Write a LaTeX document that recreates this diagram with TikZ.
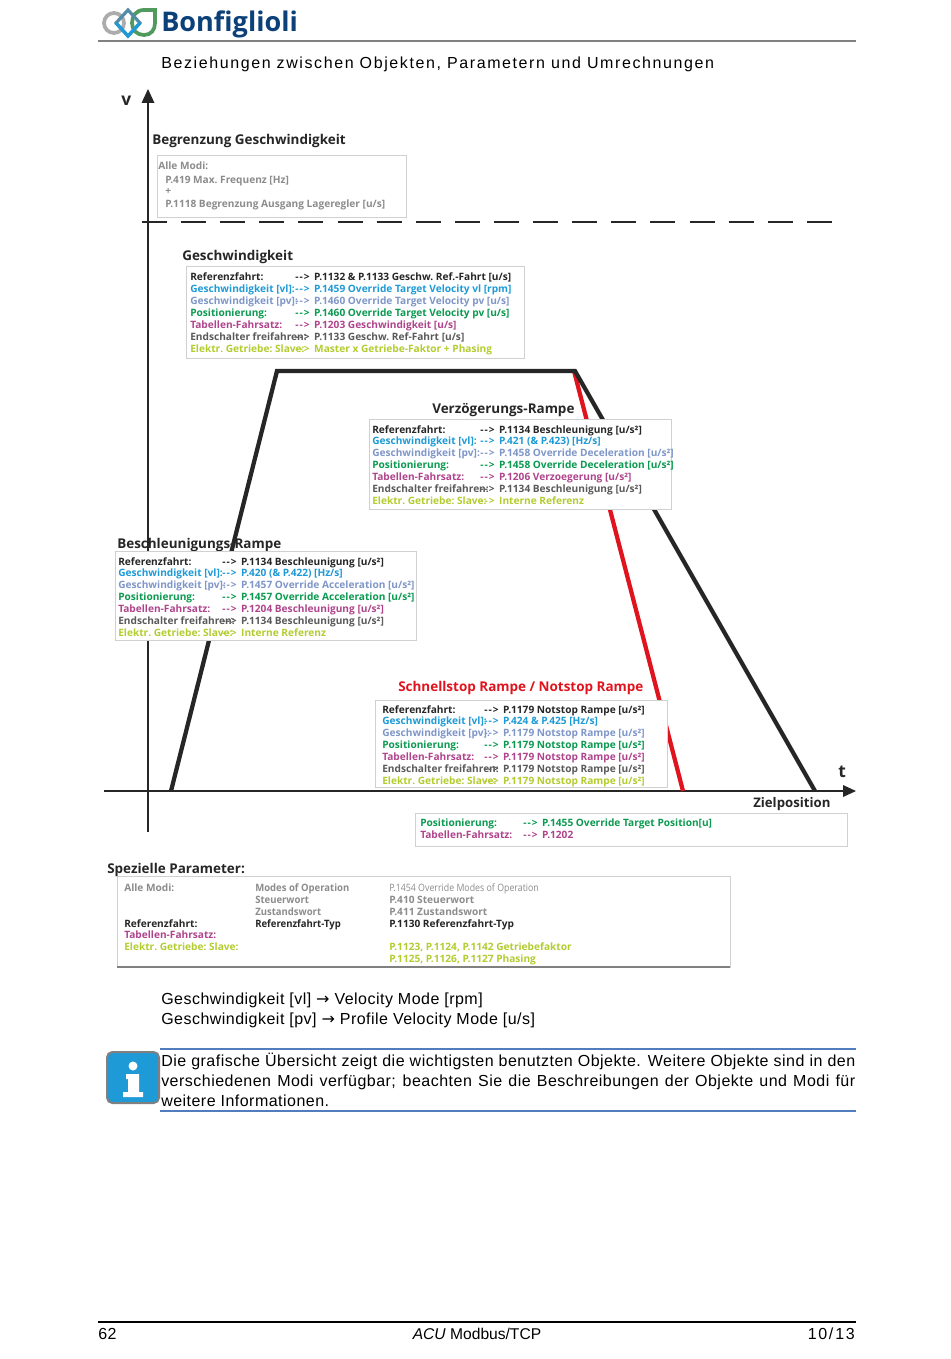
\documentclass[tikz,border=0pt]{standalone}
\usepackage{fontspec}
\setmainfont{Liberation Sans}
\newfontfamily\parfont{Open Sans}
\newfontfamily\narrowfont[FakeStretch=0.94]{Open Sans}
\newfontfamily\thinfont[FakeStretch=0.87]{Open Sans}
\newfontfamily\logofont{Open Sans}
\newfontfamily\bodyfont[LetterSpace=3]{Liberation Sans}
\newfontfamily\titlefont[LetterSpace=10]{Liberation Sans}
\newfontfamily\symfont{DejaVu Sans}
\definecolor{refcol}{HTML}{262626}
\definecolor{vlcol}{HTML}{1E9AD6}
\definecolor{pvcol}{HTML}{7F96C8}
\definecolor{poscol}{HTML}{0B9A50}
\definecolor{tabcol}{HTML}{B0448C}
\definecolor{endcol}{HTML}{5A5A5A}
\definecolor{slavecol}{HTML}{B4CC30}
\definecolor{allcol}{HTML}{8C8C8C}
\definecolor{rampred}{HTML}{E0141E}
\definecolor{boxcol}{HTML}{D0D0D0}
\definecolor{infoblue}{HTML}{4F7DBE}
\definecolor{logoblue}{HTML}{0B4078}
\definecolor{logogreen}{HTML}{4F9A5C}
\newcommand{\parr}{-\kern0.8pt-\kern0.8pt>\ \kern1.4pt}
\tikzset{
    parrow/.style={anchor=base west, inner sep=0pt, font=\frenchspacing\parfont\bfseries\fontsize{7.6}{9}\selectfont},
    narrowrow/.style={parrow, font=\frenchspacing\narrowfont\bfseries\fontsize{7.6}{9}\selectfont},
    heading/.style={anchor=base west, inner sep=0pt, font=\frenchspacing\parfont\bfseries\fontsize{10.1}{12}\selectfont, text=black!85},
    parbox/.style={draw=boxcol, fill=white, line width=0.6pt},
    bodyrow/.style={anchor=base west, inner sep=0pt, font=\bodyfont\fontsize{12}{15}\selectfont},
    axisline/.style={line width=1.9pt, black!85},
    ramp/.style={line width=3.2pt, black!85, line join=miter},
}
\begin{document}
\begin{tikzpicture}[x=0.75pt, y=-0.75pt]
    \useasboundingbox (0,0) rectangle (950,1359);

    % Page head
    \draw[gray, line width=0.8pt] (98,41) -- (856,41);
    \draw[gray!65, line width=2.8pt] (114,23) circle (10);
    \draw[logogreen, line width=2.8pt] (155,10) -- (144,10) .. controls (136,10) and (132,16) .. (132,23) .. controls (132,30) and (137,35) .. (144,35) .. controls (151,35) and (155,30) .. (155,23) -- cycle;
    \draw[gray!55!vlcol, line width=2.4pt] (128,10) -- (140,23) -- (128,36) -- (116,23) -- cycle;
    \draw[vlcol, line width=2.4pt] (140,23) -- (128,36) -- (116,23);
    \node[anchor=base west, inner sep=0pt, text=logoblue, font=\logofont\bfseries\fontsize{20.3}{24}\selectfont] (brand) at (161,32) {Bonfiglioli};
    \node[bodyrow, font=\titlefont\fontsize{12}{15}\selectfont] (pagetitle) at (161,69) {Beziehungen zwischen Objekten, Parametern und Umrechnungen};

    % Axes
    \draw[axisline] (148,832) -- (148,100);
    \fill[black!85] (148,89) -- (154.5,103) -- (141.5,103) -- cycle;
    \draw[axisline] (104,791) -- (845,791);
    \fill[black!85] (856,791) -- (843,785) -- (843,797) -- cycle;
    \node[heading, font=\parfont\bfseries\fontsize{13}{15}\selectfont] (vlabel) at (121,106) {v};
    \node[heading, font=\parfont\bfseries\fontsize{13}{15}\selectfont] (tlabel) at (838,777) {t};

    % Ramps
    \draw[ramp, rampred] (574,371) -- (683,791);
    \draw[ramp] (171,791) -- (277,371) -- (575,371) -- (815,791);

    % Speed limit
    \draw[black!85, line width=1.9pt, dash pattern=on 18.75pt off 10.58pt] (142,222) -- (833,222);
    \node[heading] (limithead) at (152,144.5) {Begrenzung Geschwindigkeit};
    \draw[parbox] (157,155) rectangle (406,217);
    \node[parrow, allcol] (limit-a) at (158,170) {Alle Modi:};
    \node[parrow, allcol] (limit-b) at (165,183) {P.419 Max. Frequenz [Hz]};
    \node[parrow, allcol] (limit-c) at (165,195) {+};
    \node[parrow, allcol] (limit-d) at (165,207) {P.1118 Begrenzung Ausgang Lageregler [u/s]};

    % Speed
    \node[heading] (speedhead) at (182,260) {Geschwindigkeit};
    \draw[parbox] (186,266) rectangle (524,358);
    \foreach \i/\col/\lab/\val in {
        0/refcol/Referenzfahrt:/{\parr P.1132 \& P.1133 Geschw. Ref.-Fahrt [u/s]},
        1/vlcol/{Geschwindigkeit [vl]:}/{\parr P.1459 Override Target Velocity vl [rpm]},
        2/pvcol/{Geschwindigkeit [pv]:}/{\parr P.1460 Override Target Velocity pv [u/s]},
        3/poscol/Positionierung:/{\parr P.1460 Override Target Velocity pv [u/s]},
        4/tabcol/Tabellen-Fahrsatz:/{\parr P.1203 Geschwindigkeit [u/s]},
        5/endcol/{Endschalter freifahren:}/{\parr P.1133 Geschw. Ref-Fahrt [u/s]},
        6/slavecol/{Elektr. Getriebe: Slave:}/{\parr Master x Getriebe-Faktor + Phasing}}
    {
        \node[parrow, \col] (speed-\i-a) at (190,{280+12*\i}) {\lab};
        \node[parrow, \col] (speed-\i-b) at (295,{280+12*\i}) {\val};
    }

    % Deceleration
    \node[heading] (dechead) at (432,413) {Verzögerungs-Rampe};
    \draw[parbox] (369,419) rectangle (671,509);
    \foreach \i/\col/\lab/\val in {
        0/refcol/Referenzfahrt:/{\parr P.1134 Beschleunigung [u/s²]},
        1/vlcol/{Geschwindigkeit [vl]:}/{\parr P.421 (\& P.423) [Hz/s]},
        2/pvcol/{Geschwindigkeit [pv]:}/{\parr P.1458 Override Deceleration [u/s²]},
        3/poscol/Positionierung:/{\parr P.1458 Override Deceleration [u/s²]},
        4/tabcol/Tabellen-Fahrsatz:/{\parr P.1206 Verzoegerung [u/s²]},
        5/endcol/{Endschalter freifahren:}/{\parr P.1134 Beschleunigung [u/s²]},
        6/slavecol/{Elektr. Getriebe: Slave:}/{\parr Interne Referenz}}
    {
        \node[parrow, \col] (dec-\i-a) at (372,{433+11.9*\i}) {\lab};
        \node[parrow, \col] (dec-\i-b) at (480,{433+11.9*\i}) {\val};
    }

    % Acceleration
    \node[heading] (acchead) at (117,548) {Beschleunigungs-Rampe};
    \draw[parbox] (115,551) rectangle (416,640);
    \foreach \i/\col/\lab/\val in {
        0/refcol/Referenzfahrt:/{\parr P.1134 Beschleunigung [u/s²]},
        1/vlcol/{Geschwindigkeit [vl]:}/{\parr P.420 (\& P.422) [Hz/s]},
        2/pvcol/{Geschwindigkeit [pv]:}/{\parr P.1457 Override Acceleration [u/s²]},
        3/poscol/Positionierung:/{\parr P.1457 Override Acceleration [u/s²]},
        4/tabcol/Tabellen-Fahrsatz:/{\parr P.1204 Beschleunigung [u/s²]},
        5/endcol/{Endschalter freifahren:}/{\parr P.1134 Beschleunigung [u/s²]},
        6/slavecol/{Elektr. Getriebe: Slave:}/{\parr Interne Referenz}}
    {
        \node[parrow, \col] (acc-\i-a) at (118,{565+11.9*\i}) {\lab};
        \node[parrow, \col] (acc-\i-b) at (222,{565+11.9*\i}) {\val};
    }

    % Emergency stop
    \node[heading, rampred] (stophead) at (398,691) {Schnellstop Rampe / Notstop Rampe};
    \draw[parbox] (375,700) rectangle (667,787);
    \foreach \i/\col/\lab/\val in {
        0/refcol/Referenzfahrt:/{\parr P.1179 Notstop Rampe [u/s²]},
        1/vlcol/{Geschwindigkeit [vl]:}/{\parr P.424 \& P.425 [Hz/s]},
        2/pvcol/{Geschwindigkeit [pv]:}/{\parr P.1179 Notstop Rampe [u/s²]},
        3/poscol/Positionierung:/{\parr P.1179 Notstop Rampe [u/s²]},
        4/tabcol/Tabellen-Fahrsatz:/{\parr P.1179 Notstop Rampe [u/s²]},
        5/endcol/{Endschalter freifahren:}/{\parr P.1179 Notstop Rampe [u/s²]},
        6/slavecol/{Elektr. Getriebe: Slave:}/{\parr P.1179 Notstop Rampe [u/s²]}}
    {
        \node[parrow, \col] (stop-\i-a) at (382,{713+11.9*\i}) {\lab};
        \node[parrow, \col] (stop-\i-b) at (484,{713+11.9*\i}) {\val};
    }

    % Target position
    \node[heading, font=\parfont\bfseries\fontsize{9.9}{11}\selectfont] (targethead) at (753,807.5) {Zielposition};
    \draw[parbox] (415,813) rectangle (847,846);
    \node[parrow, poscol] (target-a) at (420,826) {Positionierung:};
    \node[parrow, poscol] (target-b) at (523,826) {\parr P.1455 Override Target Position[u]};
    \node[parrow, tabcol] (target-c) at (420,838) {Tabellen-Fahrsatz:};
    \node[parrow, tabcol] (target-d) at (523,838) {\parr P.1202};

    % Special parameters
    \node[heading] (spechead) at (107,873) {Spezielle Parameter:};
    \draw[parbox] (117,876) rectangle (730,967);
    \draw[gray, line width=0.8pt] (117,967) -- (730,967);
    \node[parrow, allcol] (spec-a) at (124,891) {Alle Modi:};
    \node[narrowrow, allcol] (spec-b) at (255,891) {Modes of Operation};
    \node[parrow, black!45, font=\thinfont\fontsize{7.6}{9}\selectfont] (spec-c) at (389,891) {P.1454 Override Modes of Operation};
    \node[narrowrow, allcol] (spec-d) at (255,903) {Steuerwort};
    \node[parrow, allcol] (spec-e) at (389,903) {P.410 Steuerwort};
    \node[narrowrow, allcol] (spec-f) at (255,915) {Zustandswort};
    \node[parrow, allcol] (spec-g) at (389,915) {P.411 Zustandswort};
    \node[parrow, refcol] (spec-h) at (124,927) {Referenzfahrt:};
    \node[narrowrow, refcol] (spec-i) at (255,927) {Referenzfahrt-Typ};
    \node[parrow, refcol] (spec-j) at (389,927) {P.1130 Referenzfahrt-Typ};
    \node[parrow, tabcol] (spec-k) at (124,938) {Tabellen-Fahrsatz:};
    \node[parrow, slavecol] (spec-l) at (124,950) {Elektr. Getriebe: Slave:};
    \node[parrow, slavecol] (spec-m) at (389,950) {P.1123, P.1124, P.1142 Getriebefaktor};
    \node[parrow, slavecol] (spec-n) at (389,962) {P.1125, P.1126, P.1127 Phasing};

    % Legend lines
    \node[bodyrow] (legend-a) at (161,1004) {Geschwindigkeit [vl] {\symfont→} Velocity Mode [rpm]};
    \node[bodyrow] (legend-b) at (161,1024) {Geschwindigkeit [pv] {\symfont→} Profile Velocity Mode [u/s]};

    % Note
    \draw[infoblue, line width=1pt] (160,1049) -- (856,1049);
    \draw[infoblue, line width=1pt] (160,1111) -- (856,1111);
    \draw[fill=vlcol, draw=gray, line width=1.5pt, rounded corners=4pt] (107,1052) rectangle (159,1103);
    \fill[white] (133,1066) circle (4.5);
    \fill[white] (126,1074) -- (139,1074) -- (139,1092) -- (143,1092) -- (143,1097) -- (123,1097) -- (123,1092) -- (128,1092) -- (128,1079) -- (126,1079) -- cycle;
    \node[anchor=north west, inner sep=0pt, text width=520.5pt, align=justify, font=\bodyfont\fontsize{12}{15.3}\selectfont] (note) at (161,1052.5)
        {Die grafische Übersicht zeigt die wichtigsten benutzten Objekte. Weitere Objekte sind in den verschiedenen Modi verfügbar; beachten Sie die Beschreibungen der Objekte und Modi für weitere Informationen.};

    % Page foot
    \draw[black, line width=1.9pt] (98,1322) -- (856,1322);
    \node[bodyrow] (pageno) at (98,1339) {62};
    \node[bodyrow, anchor=base, font=\fontsize{11.7}{15}\selectfont] (docname) at (477,1339) {\textit{ACU} Modbus/TCP};
    \node[bodyrow, anchor=base east, font=\titlefont\fontsize{12}{15}\selectfont] (sheetno) at (855,1339) {10/\kern1.5pt13};
\end{tikzpicture}
\end{document}
